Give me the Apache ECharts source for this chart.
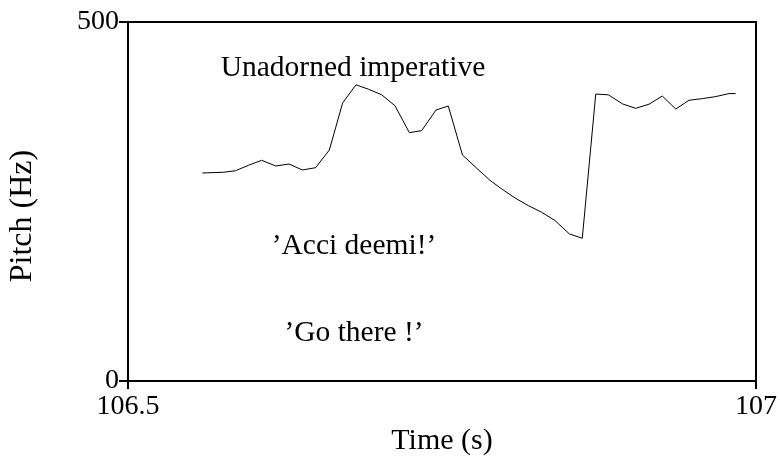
<!DOCTYPE html>
<html>
<head>
<meta charset="utf-8">
<script src="https://cdn.jsdelivr.net/npm/echarts@6/dist/echarts.min.js"></script>
<style>
html,body{margin:0;padding:0;background:#fff;}
#chart{width:780px;height:463px;}
</style>
</head>
<body>
<div id="chart"></div>
<script>
// Time (s)
var times = [106.5592, 106.5759, 106.5857, 106.5958, 106.6064, 106.6176, 106.6282, 106.6388, 106.6494, 106.6603,
  106.6709, 106.6815, 106.6913, 106.7020, 106.7126, 106.7240, 106.7338, 106.7452, 106.7550, 106.7663,
  106.7763, 106.7882, 106.7975, 106.8081, 106.8187, 106.8294, 106.8400, 106.8514, 106.8617, 106.8724,
  106.8824, 106.8939, 106.9042, 106.9148, 106.9254, 106.9361, 106.9467, 106.9573, 106.9679, 106.9785, 106.9838];
// Pitch (Hz)
var pitch = [289.7, 290.7, 292.9, 300.4, 307.4, 299.4, 302.2, 293.9, 297.1, 321.7,
  387.3, 412.5, 406.5, 398.6, 383.3, 345.9, 348.7, 377.4, 383.0, 314.8,
  298.5, 279.5, 267.5, 255.0, 244.3, 235.0, 223.4, 204.9, 198.8, 399.6,
  398.6, 385.8, 379.8, 385.5, 396.9, 378.8, 391.0, 393.3, 396.1, 400.3, 400.3];
var xTicks = [106.5, 107];
var yTicks = [0, 500];
var annotations = ["Unadorned imperative", "\u2019Acci deemi!\u2019", "\u2019Go there !\u2019"];
var yAxisName = 'Pitch (Hz)';

var FONT = '"Liberation Serif", "Times New Roman", serif';
var data = times.map(function (t, i) { return [t, pitch[i]]; });

var chart = echarts.init(document.getElementById('chart'));
chart.setOption({
  animation: false,
  backgroundColor: '#fff',
  grid: { left: 128, right: 24, top: 22, bottom: 82, show: true, borderColor: '#000', borderWidth: 2, backgroundColor: 'transparent' },
  xAxis: {
    type: 'value', min: xTicks[0], max: xTicks[1], interval: 0.5,
    name: 'Time (s)', nameLocation: 'middle', nameGap: 44,
    nameTextStyle: { fontFamily: FONT, fontSize: 30, color: '#000' },
    axisLine: { show: true, lineStyle: { color: '#000', width: 2 } },
    axisTick: { show: true, inside: false, length: 8, lineStyle: { color: '#000', width: 2 } },
    axisLabel: { fontFamily: FONT, fontSize: 28, color: '#000', margin: 12,
      formatter: function (v) { return String(v); } },
    splitLine: { show: false }
  },
  yAxis: {
    type: 'value', min: yTicks[0], max: yTicks[1], interval: 500,
    axisLine: { show: true, lineStyle: { color: '#000', width: 2 } },
    axisTick: { show: true, inside: false, length: 9, lineStyle: { color: '#000', width: 2 } },
    axisLabel: { fontFamily: FONT, fontSize: 28, color: '#000', margin: 9 },
    splitLine: { show: false }
  },
  series: [{
    type: 'line', data: data, showSymbol: false, symbol: 'none',
    lineStyle: { color: '#000', width: 1 }, z: 3
  }],
  graphic: [
    { type: 'text', x: 23, y: 216, rotation: Math.PI / 2, style: { text: yAxisName, font: '32px ' + FONT, fill: '#000', align: 'center', verticalAlign: 'middle' } },
    { type: 'text', x: 353, y: 68, style: { text: annotations[0], font: '29.5px ' + FONT, fill: '#000', align: 'center', verticalAlign: 'middle' } },
    { type: 'text', x: 354, y: 246, style: { text: annotations[1], font: '29.5px ' + FONT, fill: '#000', align: 'center', verticalAlign: 'middle' } },
    { type: 'text', x: 354, y: 333, style: { text: annotations[2], font: '29.5px ' + FONT, fill: '#000', align: 'center', verticalAlign: 'middle' } }
  ]
});
</script>
</body>
</html>
